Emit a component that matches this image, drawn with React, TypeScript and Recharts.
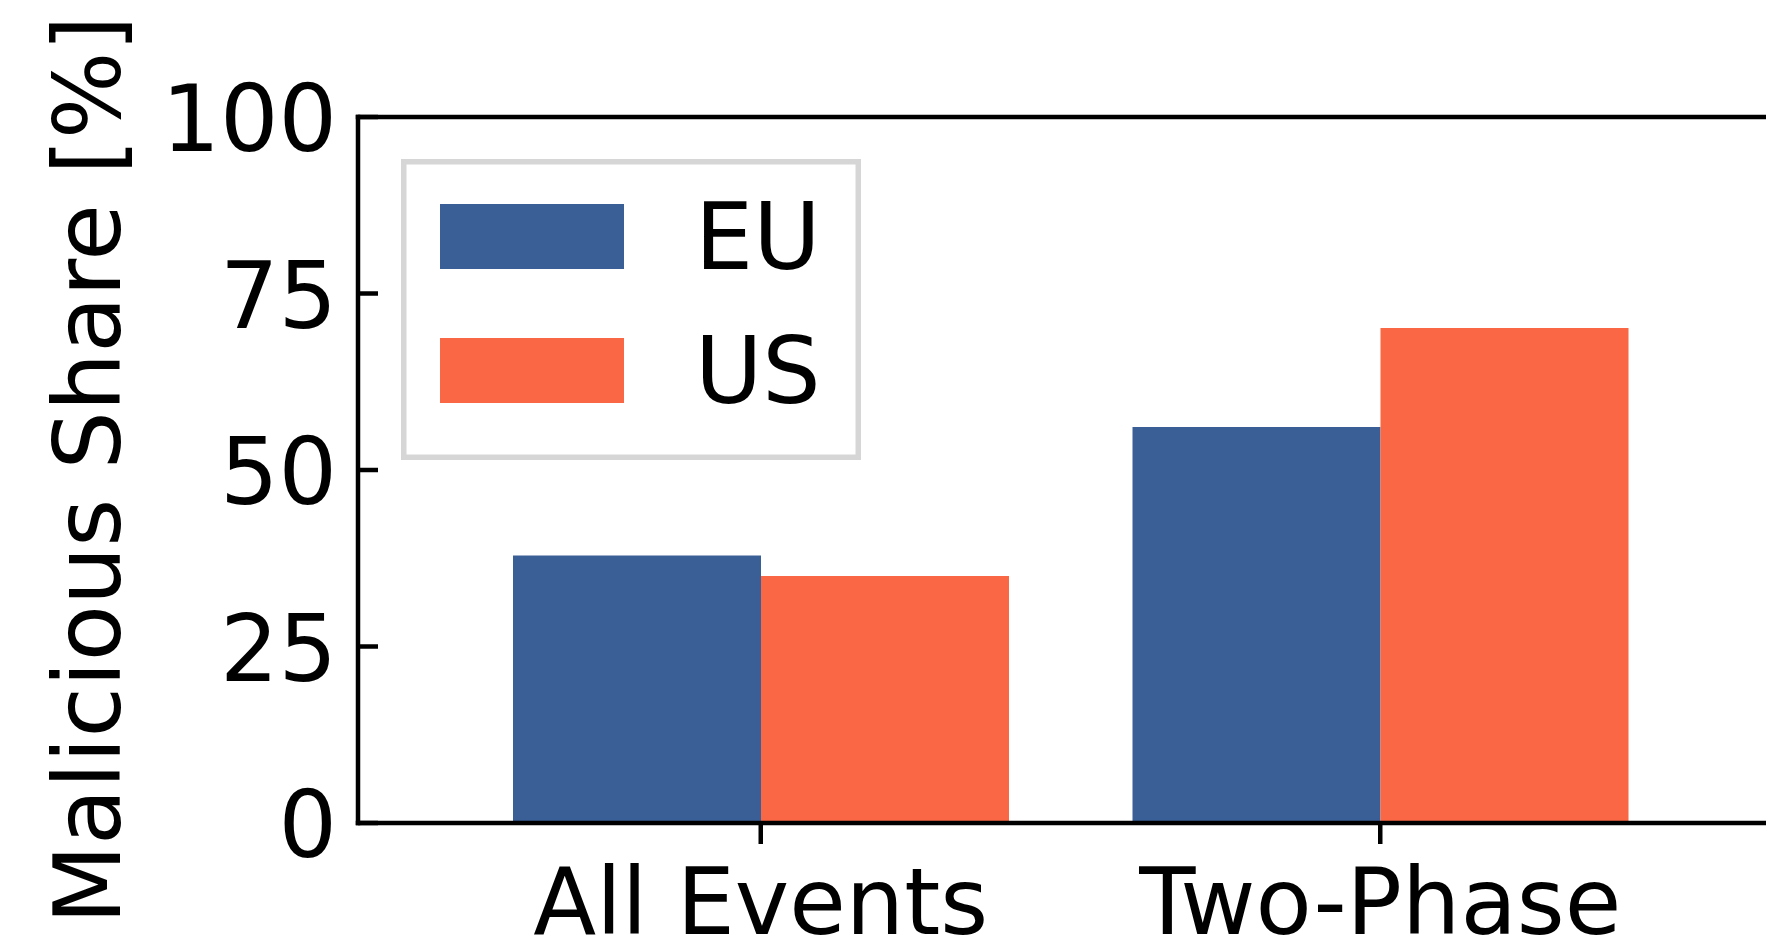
import React from 'react';
import { BarChart, Bar, XAxis, YAxis, Legend, Label } from 'recharts';

// Share of malicious events per region, by event class
const categories = ['All Events', 'Two-Phase'];
const euShare = [37.9, 56.1];
const usShare = [35.0, 70.1];
const yTicks = [0, 25, 50, 75, 100];
const seriesNames = ['EU', 'US'];
const seriesColors = ['#3A5F96', '#FA6744'];

const data = categories.map((category, i) => ({
  category,
  EU: euShare[i],
  US: usShare[i],
}));

const FONT = '"DejaVu Sans", "Liberation Sans", sans-serif';
const FS = 92;
const LINE = 4.5;

const YTick = (props: any) => {
  const { x, y, payload } = props;
  return (
    <text x={x} y={y} dy={34} textAnchor="end" fontFamily={FONT} fontSize={FS} fill="#000">
      {payload.value}
    </text>
  );
};

const XTick = (props: any) => {
  const { x, y, payload } = props;
  return (
    <text x={x} y={y} textAnchor="middle" fontFamily={FONT} fontSize={FS} fill="#000">
      {payload.value}
    </text>
  );
};

const YTitle = (props: any) => {
  const vb = props.viewBox || { x: 0, y: 117, width: 358, height: 706 };
  const cx = vb.x + 120;
  const cy = vb.y + vb.height / 2;
  return (
    <text
      x={cx}
      y={cy}
      textAnchor="middle"
      transform={`rotate(-90, ${cx}, ${cy})`}
      fontFamily={FONT}
      fontSize={FS}
      fill="#000"
    >
      Malicious Share [%]
    </text>
  );
};

const LegendBox = (props: any) => {
  const payload = props.payload || [];
  return (
    <svg width={460} height={301} style={{ display: 'block' }}>
      <rect x={2.75} y={2.75} width={454.5} height={295.5} fill="#fff" stroke="#d6d6d6" strokeWidth={5.5} />
      {payload.map((entry: any, i: number) => (
        <g key={entry.value}>
          <rect x={39} y={45 + i * 134} width={184} height={65} fill={entry.color} />
          <text x={294} y={110 + i * 134} fontFamily={FONT} fontSize={FS} fill="#000">
            {entry.value}
          </text>
        </g>
      ))}
    </svg>
  );
};

const axisLine = { stroke: '#000', strokeWidth: LINE, strokeLinecap: 'square' as const };
const tickLine = { stroke: '#000', strokeWidth: LINE };

export default function App() {
  return (
    <div
      style={{
        position: 'fixed',
        left: 0,
        top: 0,
        width: 1766,
        height: 939,
        overflow: 'hidden',
        background: '#fff',
      }}
    >
      <BarChart
        width={1800}
        height={939}
        data={data}
        margin={{ top: 115, right: 0, bottom: 0, left: 0 }}
        barGap={0}
        barSize={248}
      >
        {seriesNames.map((name, i) => (
          <Bar key={name} dataKey={name} name={name} fill={seriesColors[i]} isAnimationActive={false} />
        ))}
        <Legend
          content={LegendBox}
          layout="vertical"
          align="center"
          verticalAlign="middle"
          width={460}
          height={301}
          wrapperStyle={{ left: 401, top: 159, width: 460, height: 301 }}
        />
        <XAxis
          dataKey="category"
          height={116}
          padding={{ left: 93, right: 93 }}
          axisLine={axisLine}
          tickLine={tickLine}
          tickSize={21}
          tickMargin={90}
          tick={<XTick />}
          interval={0}
        />
        <XAxis
          xAxisId="top"
          orientation="top"
          dataKey="category"
          height={2}
          padding={{ left: 93, right: 93 }}
          axisLine={axisLine}
          tick={false}
          tickLine={false}
        />
        <YAxis
          type="number"
          domain={[0, 100]}
          ticks={yTicks}
          width={358}
          axisLine={axisLine}
          tickLine={tickLine}
          tickSize={-20}
          tickMargin={41}
          tick={<YTick />}
          interval={0}
        >
          <Label content={<YTitle />} />
        </YAxis>
        <YAxis
          yAxisId="right"
          orientation="right"
          type="number"
          domain={[0, 100]}
          ticks={yTicks}
          width={17}
          axisLine={axisLine}
          tickLine={tickLine}
          tickSize={-20}
          tick={false}
          interval={0}
        />
      </BarChart>
    </div>
  );
}
